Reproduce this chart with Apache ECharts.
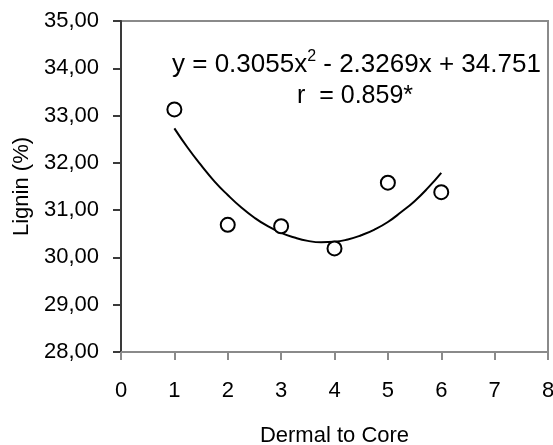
<!DOCTYPE html>
<html lang="en">
<head>
  <meta charset="utf-8">
  <title>Lignin - Dermal to Core</title>
  <script src="https://fastly.jsdelivr.net/npm/echarts@6.0.0/dist/echarts.min.js"></script>
  <style>
    * { margin: 0; padding: 0; }
    body { background: #fff; }
    #chart { width: 553px; height: 445px; }
  </style>
</head>
<body>
  <div id="chart"></div>
  <script>
    // measured points (position from dermal to core)
    var positions = [1, 2, 3, 4, 5, 6];
    var lignin = [33.13, 30.69, 30.66, 30.19, 31.58, 31.38];

    // trend curve
    var trendX = [1, 1.25, 1.5, 1.75, 2, 2.25, 2.5, 2.75, 3, 3.25, 3.5,
                  3.75, 4, 4.25, 4.5, 4.75, 5, 5.25, 5.5, 5.75, 6];
    var trendY = [32.73, 32.32, 31.95, 31.61, 31.32, 31.06, 30.84, 30.66, 30.52, 30.42, 30.35,
                  30.32, 30.33, 30.38, 30.47, 30.59, 30.75, 30.96, 31.19, 31.47, 31.79];

    var FONT = 'Liberation Sans, Arial, sans-serif';

    var dom = document.getElementById('chart');
    var myChart = echarts.init(dom, null, { renderer: 'canvas' });

    var points = positions.map(function (x, i) { return [x, lignin[i]]; });
    var trend = trendX.map(function (x, i) { return [x, trendY[i]]; });

    var option = {
      animation: false,
      grid: {
        left: 121,
        top: 21,
        right: 5,
        bottom: 93,
        containLabel: false,
        outerBoundsMode: 'none',
        show: true,
        borderColor: '#8a8a8a',
        borderWidth: 2
      },
      xAxis: {
        type: 'value',
        min: 0,
        max: 8,
        interval: 1,
        name: 'Dermal to Core',
        nameLocation: 'middle',
        nameGap: 73,
        nameTextStyle: { color: '#000', fontSize: 22, fontFamily: FONT },
        axisLine: { lineStyle: { color: '#8a8a8a', width: 2 } },
        axisTick: { show: true, inside: false, length: 8, lineStyle: { color: '#8a8a8a', width: 2 } },
        axisLabel: { color: '#000', fontSize: 22, fontFamily: FONT, margin: 28 },
        splitLine: { show: false }
      },
      yAxis: {
        type: 'value',
        min: 28,
        max: 35,
        interval: 1,
        name: 'Lignin (%)',
        nameLocation: 'middle',
        nameGap: 88,
        nameMoveOverlap: false,
        nameTextStyle: { color: '#000', fontSize: 22, fontFamily: FONT },
        axisLine: { show: true, lineStyle: { color: '#3a3a3a', width: 2 } },
        axisTick: { show: true, inside: false, length: 8, lineStyle: { color: '#3a3a3a', width: 2 } },
        axisLabel: {
          color: '#000', fontSize: 22, fontFamily: FONT, margin: 22,
          formatter: function (v) { return v.toFixed(2).replace('.', ','); }
        },
        splitLine: { show: false }
      },
      graphic: [
        {
          type: 'text',
          left: 172,
          top: 49,
          style: {
            text: '{t|y = 0.3055x}{s|2}{t| - 2.3269x + 34.751}',
            rich: {
              t: { fontSize: 26, fontFamily: FONT, fill: '#000', verticalAlign: 'bottom', lineHeight: 29 },
              s: { fontSize: 16, fontFamily: FONT, fill: '#000', verticalAlign: 'top', lineHeight: 29, padding: [0, 0, 12, 0] }
            }
          }
        },
        {
          type: 'text',
          left: 297,
          top: 84,
          style: {
            text: 'r  = 0.859*',
            fontSize: 25,
            fontFamily: FONT,
            fill: '#000'
          }
        }
      ],
      series: [
        {
          name: 'trend',
          type: 'line',
          data: trend,
          smooth: true,
          showSymbol: false,
          symbol: 'none',
          lineStyle: { color: '#000', width: 2 },
          z: 2
        },
        {
          name: 'lignin',
          type: 'scatter',
          data: points,
          symbol: 'circle',
          symbolSize: 14,
          itemStyle: { color: '#fff', borderColor: '#000', borderWidth: 2, opacity: 1 },
          z: 3
        }
      ]
    };

    myChart.setOption(option);
    window.addEventListener('resize', myChart.resize);
  </script>
</body>
</html>
